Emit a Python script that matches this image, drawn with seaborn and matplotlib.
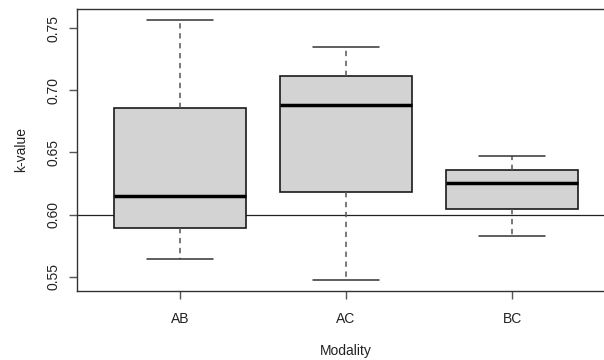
import matplotlib
matplotlib.use("Agg")
import matplotlib.pyplot as plt
import seaborn as sns
import pandas as pd

categories = ["AB", "AC", "BC"]
ab_values = [0.5645, 0.589, 0.615, 0.686, 0.7567]
ac_values = [0.547, 0.618, 0.6885, 0.7116, 0.7347]
bc_values = [0.5828, 0.6043, 0.6252, 0.6357, 0.6474]
ref_level = 0.60
y_ticks = [0.55, 0.60, 0.65, 0.70, 0.75]
y_ticklabels = ["0.55", "0.60", "0.65", "0.70", "0.75"]

df = pd.DataFrame({
    "Modality": [c for c, v in zip(categories, [ab_values, ac_values, bc_values]) for _ in v],
    "k-value": ab_values + ac_values + bc_values,
})

sns.set_style("white")
plt.rcParams["font.family"] = ["Liberation Sans", "DejaVu Sans"]

fig = plt.figure(figsize=(6.04, 3.6), dpi=100)
ax = fig.add_axes([77/604, 1 - 290.7/360, (615 - 77)/604, (290.7 - 9)/360])

edge = "#1a1a1a"
sns.boxplot(data=df, x="Modality", y="k-value", order=categories, ax=ax,
            color="#d3d3d3", width=0.8, whis=10, linewidth=1.2,
            boxprops=dict(facecolor="#d3d3d3", edgecolor=edge, linewidth=1.2),
            medianprops=dict(color="black", linewidth=2.5),
            whiskerprops=dict(color="#555555", linewidth=1.1, linestyle=(0, (3.5, 3))),
            capprops=dict(color="#333333", linewidth=1.1),
            capwidths=0.4, showfliers=False)

ax.axhline(ref_level, color="#222222", linewidth=0.9, zorder=1)

ax.set_xlim(-0.62, 2.62)
ax.set_ylim(0.5387, 0.7655)
ax.set_yticks(y_ticks)
ax.set_yticklabels(y_ticklabels, rotation=90, va="center")
for s in ax.spines.values():
    s.set_visible(True)
    s.set_color("#333333")
    s.set_linewidth(1.0)
ax.tick_params(axis="both", which="both", length=6, width=1, color="#555555",
               labelsize=10, labelcolor="#222222", direction="out")
ax.tick_params(axis="x", pad=9)
ax.tick_params(axis="y", pad=6)
ax.tick_params(left=True, bottom=True)
ax.set_xlabel("Modality", fontsize=10, color="#222222", labelpad=13)
ax.set_ylabel("k-value", fontsize=10, color="#222222", labelpad=13)

fig.savefig("out.png", dpi=100)
